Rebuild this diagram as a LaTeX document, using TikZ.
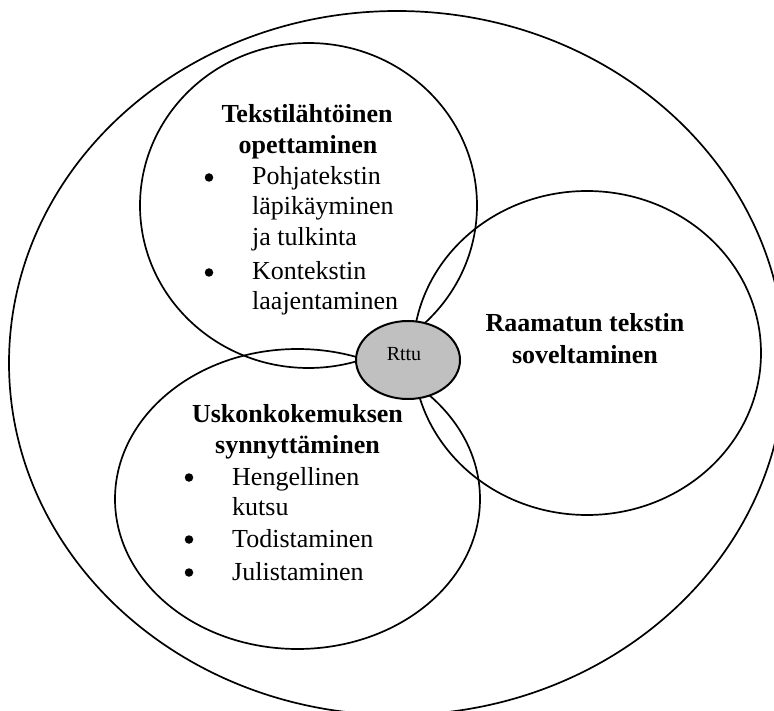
\documentclass[tikz,border=0pt]{standalone}
\usepackage{fontspec}
\setmainfont{Liberation Serif}
\usetikzlibrary{shapes.geometric}
\definecolor{rttugray}{RGB}{192,192,192}
\begin{document}
\begin{tikzpicture}[x=1pt,y=-1pt,
  ring/.style={draw, line width=1.7pt, ellipse, inner sep=0pt, outer sep=0pt},
  ttl/.style={anchor=base, inner sep=0pt, font=\fontsize{26}{31}\selectfont\bfseries},
  itm/.style={anchor=base west, inner sep=0pt, font=\fontsize{26}{31}\selectfont},
  bul/.style={circle, fill=black, inner sep=0pt, minimum size=8.5pt}]
\useasboundingbox (0,0) rectangle (774,711);
\clip (0,0) rectangle (774,711);
% circles
\node[ring, minimum width=776pt, minimum height=704pt] (outer) at (397,363) {};
\node[ring, minimum width=337pt, minimum height=325pt] (teksti) at (308.5,205.5) {};
\node[ring, minimum width=348pt, minimum height=324pt] (raamattu) at (587,353) {};
\node[ring, minimum width=365pt, minimum height=300pt] (usko) at (297.5,499) {};
\node[draw, ellipse, line width=2pt, fill=rttugray, inner sep=0pt,
      minimum width=104pt, minimum height=78pt] (rttu) at (408,360) {};
\node[anchor=base, inner sep=0pt, font=\fontsize{20}{24}\selectfont] (rttutext) at (404,361) {Rttu};
% top circle texts
\node[ttl] (t1) at (307,123) {Tekstilähtöinen};
\node[ttl] (t2) at (308,154) {opettaminen};
\node[bul] (b1) at (209,177.5) {};
\node[itm] (i1a) at (252,185) {Pohjatekstin};
\node[itm] (i1b) at (252,215) {läpikäyminen};
\node[itm] (i1c) at (252,246) {ja tulkinta};
\node[bul] (b2) at (209,272.5) {};
\node[itm] (i2a) at (252,280) {Kontekstin};
\node[itm] (i2b) at (252,310) {laajentaminen};
% right circle texts
\node[ttl] (r1) at (585,332) {Raamatun tekstin};
\node[ttl] (r2) at (585,363) {soveltaminen};
% bottom-left circle texts
\node[ttl] (u1) at (297.5,422) {Uskonkokemuksen};
\node[ttl] (u2) at (297.5,453) {synnyttäminen};
\node[bul] (b3) at (189,477.5) {};
\node[itm] (j1a) at (232,485) {Hengellinen};
\node[itm] (j1b) at (232,515) {kutsu};
\node[bul] (b4) at (189,539.5) {};
\node[itm] (j2) at (232,547) {Todistaminen};
\node[bul] (b5) at (189,572.5) {};
\node[itm] (j3) at (232,580) {Julistaminen};
\end{tikzpicture}
\end{document}
